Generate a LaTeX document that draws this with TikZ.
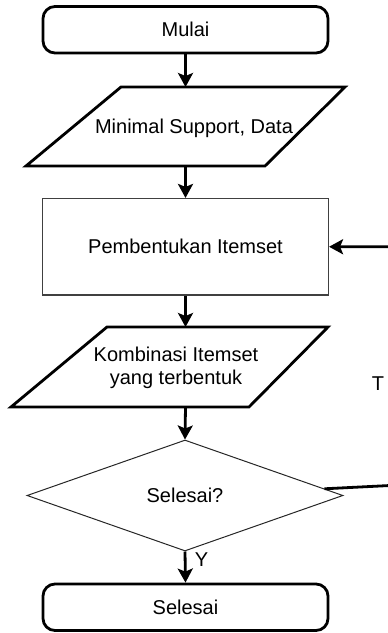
\documentclass[tikz,border=0pt]{standalone}
\usepackage{fontspec}
\setmainfont{Liberation Sans}
\usetikzlibrary{shapes.geometric,arrows.meta,calc}
\begin{document}
\begin{tikzpicture}[x=1pt,y=-1pt,
  every node/.style={font=\fontsize{20}{22.5}\selectfont, inner sep=0pt},
  terminal/.style={draw, line width=2.8pt, rounded corners=12pt,
    minimum width=285pt, minimum height=46.5pt},
  process/.style={draw=black!75, line width=1.1pt,
    minimum width=286pt, minimum height=96.5pt},
  decision/.style={diamond, draw=black!85, line width=1pt,
    minimum width=316pt, minimum height=111pt},
  iobox/.style={line width=2.8pt, line join=miter},
  flow/.style={line width=2.8pt,
    -{Stealth[length=14pt,width=15pt,inset=3pt]}}
]
\useasboundingbox (0,0) rectangle (388,633);

% terminals, process and decision
\node[terminal] (start) at (185.5,29.75) {Mulai};
\node[process] (gen) at (185.5,246.75) {Pembentukan Itemset};
\node[decision] (dec) at (185,495.5) {Selesai?};
\node[terminal] (stop) at (185.5,607.25) {Selesai};

% input: minimal support and data
\coordinate (in1-n) at (185.5,87);
\coordinate (in1-s) at (185.5,166);
\draw[iobox] (26,166) -- (121,87) -- (345,87) -- (265,166) -- cycle;
\node[anchor=base] (in1) at (194,133) {Minimal Support, Data};

% output: generated itemset combinations
\coordinate (in2-n) at (185.5,327);
\coordinate (in2-s) at (185.5,407);
\draw[iobox] (11,407) -- (107,327) -- (328,327) -- (249,407) -- cycle;
\node[align=center] (in2) at (176,368) {Kombinasi Itemset\\yang terbentuk};

% main flow
\draw[flow] (start.south) -- (in1-n);
\draw[flow] (in1-s) -- (gen.north);
\draw[flow] (gen.south) -- (in2-n);
\draw[flow] (in2-s) -- (dec.north);
\draw[flow] (dec.south) -- (stop.north);
\node (ylab) at (201.5,559.5) {Y};

% loop back when not finished
\coordinate (loopA) at ($(dec.north)!0.88!(dec.east)$);
\coordinate (loopB) at (400,485);
\draw[flow] (loopA) -- (loopB) |- (gen.east);
\node (tlab) at (378,384) {T};
\end{tikzpicture}
\end{document}
